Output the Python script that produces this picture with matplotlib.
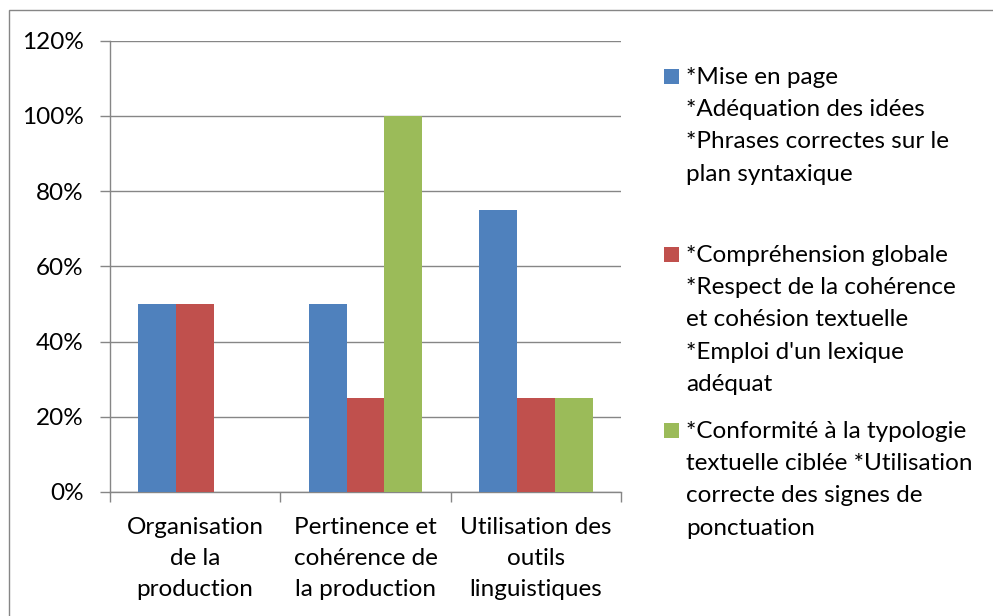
import numpy as np
import matplotlib
matplotlib.use('Agg')
import matplotlib.pyplot as plt
from matplotlib.patches import Rectangle
from matplotlib.ticker import PercentFormatter

categories = ['Organisation\nde la\nproduction',
              'Pertinence et\ncohérence de\nla production',
              'Utilisation des\noutils\nlinguistiques']
series_labels = ['*Mise en page\n*Adéquation des idées\n*Phrases correctes sur le\nplan syntaxique',
                 '*Compréhension globale\n*Respect de la cohérence\net cohésion textuelle\n*Emploi d\'un lexique\nadéquat',
                 '*Conformité à la typologie\ntextuelle ciblée *Utilisation\ncorrecte des signes de\nponctuation']
blue_vals = [50, 50, 75]
red_vals = [50, 25, 25]
green_vals = [0, 100, 25]
colors = ['#4F81BD', '#C0504D', '#9BBB59']

plt.rcParams['font.family'] = ['Lato', 'DejaVu Sans']
plt.rcParams['font.size'] = 17.5

W, H = 993, 616
fig = plt.figure(figsize=(W / 100, H / 100), dpi=100)

# outer chart border (right/bottom edges fall outside the image)
fig.patches.append(Rectangle((9 / W, -0.1), 1.2, (H - 10) / H + 0.1, transform=fig.transFigure,
                             fill=False, edgecolor='#868686', linewidth=1.0))

ax = fig.add_axes([110 / W, (H - 492) / H, (621 - 110) / W, (492 - 40.7) / H])

x = np.arange(len(categories))
bw = 1 / 4.5
for i, vals in enumerate([blue_vals, red_vals, green_vals]):
    ax.bar(x + (i - 1) * bw, vals, width=bw, color=colors[i], zorder=3)

ax.set_xlim(-0.5, len(categories) - 0.5)
ax.set_ylim(0, 120)
ax.set_yticks(np.arange(0, 121, 20))
ax.yaxis.set_major_formatter(PercentFormatter(decimals=0))
ax.yaxis.grid(True, color='#868686', linewidth=1.0, zorder=0)

ax.set_xticks(np.arange(-0.5, len(categories), 1.0))
ax.set_xticklabels([])
ax.set_xticks(x, minor=True)
ax.set_xticklabels(categories, minor=True, linespacing=1.6)
ax.tick_params(axis='x', which='minor', length=0, pad=18)
ax.tick_params(axis='x', which='major', length=7, color='#868686', width=1.0)
ax.tick_params(axis='y', length=7, color='#868686', width=1.0, pad=12)

for s in ['top', 'right']:
    ax.spines[s].set_visible(False)
for s in ['left', 'bottom']:
    ax.spines[s].set_color('#868686')
    ax.spines[s].set_linewidth(1.0)

# legend drawn by hand to keep Excel's uneven spacing
legend_tops = [69, 247, 423]
for lab, col, top in zip(series_labels, colors, legend_tops):
    fig.patches.append(Rectangle((664 / W, (H - top - 14.5) / H), 15 / W, 14.5 / H,
                                 transform=fig.transFigure, facecolor=col, edgecolor='none'))
    fig.text(686 / W, (H - top + 2) / H, lab, ha='left', va='top', linespacing=1.66)

fig.savefig('out.png', dpi=100)
